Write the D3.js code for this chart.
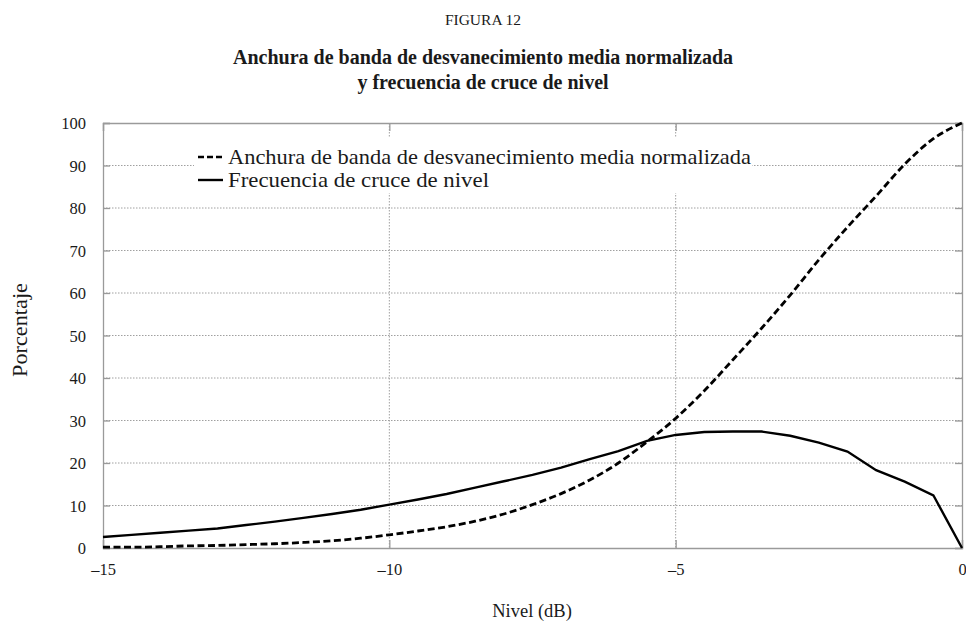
<!DOCTYPE html>
<html><head><meta charset="utf-8">
<script src="https://cdn.jsdelivr.net/npm/d3@7"></script>
<style>
body{margin:0;background:#fff;}
text{font-family:"Liberation Serif","Times New Roman",serif;fill:#1a1a1a;}
</style></head>
<body><svg id="c" width="966" height="628"></svg>
<script>
const levels = [-15,-14.5,-14,-13.5,-13,-12.5,-12,-11.5,-11,-10.5,-10,-9.5,-9,-8.5,-8,-7.5,-7,-6.5,-6,-5.5,-5,-4.5,-4,-3.5,-3,-2.5,-2,-1.5,-1,-0.5,0];
const anchura = [0.2,0.2,0.3,0.5,0.6,0.8,1.0,1.3,1.7,2.3,3.1,4.0,5.0,6.3,8.0,10.2,12.8,16.0,20.0,25.0,30.5,37,44.3,51.7,59.5,67.8,75.5,82.8,90.3,96.3,100];
const frecuencia = [2.6,3.1,3.6,4.1,4.6,5.4,6.2,7.1,8.0,9.0,10.2,11.4,12.7,14.2,15.7,17.2,18.9,20.9,22.8,25.2,26.6,27.3,27.4,27.4,26.4,24.8,22.7,18.3,15.6,12.4,0];
const xTicks = [-15,-10,-5,0];
const yTicks = [0,10,20,30,40,50,60,70,80,90,100];
const seriesNames = ["Anchura de banda de desvanecimiento media normalizada","Frecuencia de cruce de nivel"];

const svg = d3.select("#c");
const L=103,R=962,T=123,B=548;
const x = d3.scaleLinear().domain([-15,0]).range([L,R]);
const y = d3.scaleLinear().domain([0,100]).range([B,T]);

svg.append("text").attr("x",483).attr("y",25).attr("text-anchor","middle").attr("font-size",15.5).text("FIGURA 12");
svg.append("text").attr("x",483).attr("y",64).attr("text-anchor","middle").attr("font-size",20).attr("font-weight","bold").text("Anchura de banda de desvanecimiento media normalizada");
svg.append("text").attr("x",483).attr("y",89).attr("text-anchor","middle").attr("font-size",20).attr("font-weight","bold").text("y frecuencia de cruce de nivel");

// grid
const g = svg.append("g");
g.selectAll(".hg").data(yTicks.filter(d=>d>0&&d<100)).join("line")
 .attr("x1",L).attr("x2",R).attr("y1",d=>y(d)).attr("y2",d=>y(d))
 .attr("stroke","#a0a0a0").attr("stroke-width",1).attr("stroke-dasharray","1.5,1.5");
g.selectAll(".vg").data(xTicks.filter(d=>d>-15&&d<0)).join("line")
 .attr("y1",T).attr("y2",B).attr("x1",d=>x(d)).attr("x2",d=>x(d))
 .attr("stroke","#a0a0a0").attr("stroke-width",1).attr("stroke-dasharray","1.5,1.5");

// axes with inward ticks
const axL = svg.append("g").attr("transform",`translate(${L},0)`).call(d3.axisLeft(y).tickValues(yTicks).tickSize(-7).tickPadding(17).tickFormat(d3.format("d")));
const axR = svg.append("g").attr("transform",`translate(${R},0)`).call(d3.axisRight(y).tickValues(yTicks).tickSize(-7).tickFormat(""));
const axB = svg.append("g").attr("transform",`translate(0,${B})`).call(d3.axisBottom(x).tickValues(xTicks).tickSize(-8).tickPadding(15).tickFormat(d=>d<0?"\u2013"+Math.abs(d):d));
const axT = svg.append("g").attr("transform",`translate(0,${T})`).call(d3.axisTop(x).tickValues(xTicks).tickSize(-8).tickFormat(""));
[axL,axR,axB,axT].forEach(a=>{
  a.selectAll("path,line").attr("stroke","#9a9a9a").attr("stroke-width",1.3);
  a.selectAll("text").attr("font-size",16.5).attr("font-family","Liberation Serif, serif").attr("fill","#1a1a1a");
});
axL.selectAll(".tick text").attr("dy","0.35em");

svg.append("text").attr("transform","translate(27,330) rotate(-90)").attr("text-anchor","middle").attr("font-size",20).attr("textLength",94).attr("lengthAdjust","spacingAndGlyphs").text("Porcentaje");
svg.append("text").attr("x",532).attr("y",617).attr("text-anchor","middle").attr("font-size",18.5).text("Nivel (dB)");

// legend
const lg = svg.append("g");
lg.append("rect").attr("x",194).attr("y",138).attr("width",558).attr("height",55).attr("fill","#fff");
lg.append("line").attr("x1",198).attr("x2",223).attr("y1",157).attr("y2",157).attr("stroke","#000").attr("stroke-width",2.4).attr("stroke-dasharray","6,3");
lg.append("line").attr("x1",198).attr("x2",223).attr("y1",180).attr("y2",180).attr("stroke","#000").attr("stroke-width",2.4);
lg.append("text").attr("x",228).attr("y",164).attr("font-size",21).attr("textLength",523).attr("lengthAdjust","spacingAndGlyphs").text(seriesNames[0]);
lg.append("text").attr("x",228).attr("y",187).attr("font-size",21).attr("textLength",261).attr("lengthAdjust","spacingAndGlyphs").text(seriesNames[1]);

const line = d3.line().x((d,i)=>x(levels[i])).y(d=>y(d)).curve(d3.curveMonotoneX);
svg.append("path").datum(anchura).attr("d",line).attr("fill","none").attr("stroke","#000").attr("stroke-width",2.8).attr("stroke-dasharray","7,3.5");
const line2 = d3.line().x((d,i)=>x(levels[i])).y(d=>y(d)).curve(d3.curveLinear);
svg.append("path").datum(frecuencia).attr("d",line2).attr("fill","none").attr("stroke","#000").attr("stroke-width",2.4);
</script></body></html>
